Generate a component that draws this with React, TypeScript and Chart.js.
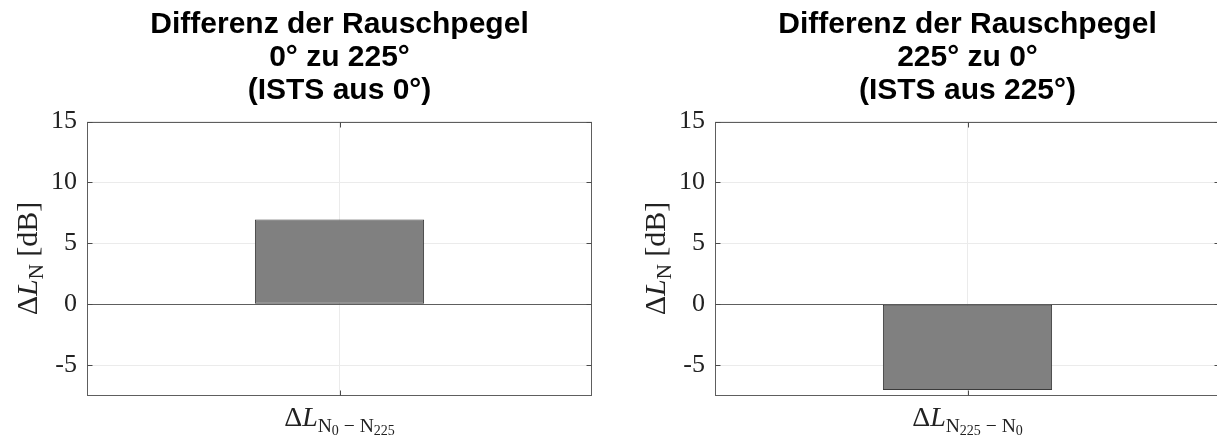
import React, { useEffect, useRef } from 'react';
import { Chart, registerables } from 'chart.js';

Chart.register(...registerables);

// ---- data ----
const leftTitle = ['Differenz der Rauschpegel', '0° zu 225°', '(ISTS aus 0°)'];
const rightTitle = ['Differenz der Rauschpegel', '225° zu 0°', '(ISTS aus 225°)'];
const leftSub = ['0', '225']; // ΔL_{N_0 − N_225}
const rightSub = ['225', '0']; // ΔL_{N_225 − N_0}
const leftCategories = [`ΔL_N${leftSub[0]} − N${leftSub[1]}`];
const rightCategories = [`ΔL_N${rightSub[0]} − N${rightSub[1]}`];
const leftValues = [6.95];
const rightValues = [-7.05];
const yTickValues = [-5, 0, 5, 10, 15];
const yTickLabels = ['-5', '0', '5', '10', '15'];
const yMin = -7.5;
const yMax = 15;
const yLabelParts = ['Δ', 'L', 'N', ' [dB]'];

// ---- rendering helpers ----
type Run = { t: string; size: number; italic?: boolean; dy: number };
const SERIF = '"Liberation Serif", "Times New Roman", serif';
const SANS = '"Liberation Sans", Arial, sans-serif';

function runFont(r: Run) {
  return `${r.italic ? 'italic ' : ''}${r.size}px ${SERIF}`;
}

function drawRuns(ctx: CanvasRenderingContext2D, runs: Run[], x: number, y: number) {
  let total = 0;
  const widths = runs.map((r) => {
    ctx.font = runFont(r);
    const w = ctx.measureText(r.t).width;
    total += w;
    return w;
  });
  let cx = x - total / 2;
  ctx.textAlign = 'left';
  ctx.textBaseline = 'alphabetic';
  runs.forEach((r, i) => {
    ctx.font = runFont(r);
    ctx.fillText(r.t, cx, y + r.dy);
    cx += widths[i];
  });
}

function xLabelRuns(sub: string[], B: number): Run[] {
  return [
    { t: 'Δ', size: B, dy: 0 },
    { t: 'L', size: B, italic: true, dy: 0 },
    { t: 'N', size: B * 0.7, dy: B * 0.2 },
    { t: sub[0], size: B * 0.5, dy: B * 0.33 },
    { t: ' − ', size: B * 0.7, dy: B * 0.2 },
    { t: 'N', size: B * 0.7, dy: B * 0.2 },
    { t: sub[1], size: B * 0.5, dy: B * 0.33 },
  ];
}

function yLabelRuns(B: number): Run[] {
  return [
    { t: yLabelParts[0], size: B, dy: 0 },
    { t: yLabelParts[1], size: B, italic: true, dy: 0 },
    { t: yLabelParts[2], size: B * 0.7, dy: B * 0.2 },
    { t: yLabelParts[3], size: B, dy: 0 },
  ];
}

function makeChart(canvas: HTMLCanvasElement, title: string[], categories: string[], values: number[], sub: string[]) {
  const decor = {
    id: 'matlabDecor',
    afterDraw(chart: any) {
      const { ctx, chartArea } = chart;
      const { left, right, top, bottom } = chartArea;
      const yScale = chart.scales.y;
      const xScale = chart.scales.x;
      ctx.save();
      // title, centred over the plot area
      ctx.fillStyle = '#000';
      ctx.font = `bold 30px ${SANS}`;
      ctx.textAlign = 'center';
      ctx.textBaseline = 'middle';
      title.forEach((line, i) => {
        ctx.fillText(line, (left + right) / 2, 24.5 + i * 33);
      });
      // box
      ctx.strokeStyle = '#5e5e5e';
      ctx.lineWidth = 1;
      const L = Math.round(left) + 0.5;
      const R = Math.round(right) - 0.5;
      const T = Math.round(top) + 0.5;
      const Bt = Math.round(bottom) - 0.5;
      ctx.strokeRect(L, T, R - L, Bt - T);
      // ticks
      ctx.strokeStyle = '#4a4a4a';
      ctx.beginPath();
      yTickValues.forEach((v) => {
        const py = Math.round(yScale.getPixelForValue(v)) + 0.5;
        ctx.moveTo(L, py);
        ctx.lineTo(L + 5, py);
        ctx.moveTo(R, py);
        ctx.lineTo(R - 5, py);
      });
      categories.forEach((_c, i) => {
        const px = Math.round(xScale.getPixelForValue(i)) + 0.5;
        ctx.moveTo(px, Bt);
        ctx.lineTo(px, Bt - 5);
        ctx.moveTo(px, T);
        ctx.lineTo(px, T + 5);
      });
      ctx.stroke();
      // x tick labels (rich text)
      ctx.fillStyle = '#222';
      categories.forEach((_c, i) => {
        const px = xScale.getPixelForValue(i);
        drawRuns(ctx, xLabelRuns(sub, 28), px, 426);
      });
      // y axis label (rotated)
      ctx.translate(37, (top + bottom) / 2);
      ctx.rotate(-Math.PI / 2);
      drawRuns(ctx, yLabelRuns(30), 0, 0);
      ctx.restore();
    },
  };

  return new Chart(canvas, {
    type: 'bar',
    data: {
      labels: categories,
      datasets: [
        {
          data: values,
          backgroundColor: '#808080',
          borderColor: '#3a3a3a',
          borderWidth: 1,
          borderSkipped: false,
          categoryPercentage: 1,
          barPercentage: 0.335,
        },
      ],
    },
    options: {
      responsive: false,
      animation: false,
      devicePixelRatio: 1,
      layout: { padding: { left: 0, right: 88, top: 121.5, bottom: 0 } },
      plugins: {
        legend: { display: false },
        tooltip: { enabled: false },
        title: { display: false },
      },
      scales: {
        x: {
          grid: { offset: false, color: '#ebebeb', drawTicks: false },
          border: { display: false },
          ticks: { display: false },
          afterFit: (s: any) => {
            s.height = 41.5;
          },
        },
        y: {
          min: yMin,
          max: yMax,
          afterBuildTicks: (s: any) => {
            s.ticks = yTickValues.map((v) => ({ value: v }));
          },
          afterFit: (s: any) => {
            s.width = 87;
          },
          grid: {
            drawTicks: false,
            color: (c: any) => (c.tick && c.tick.value === 0 ? '#5e5e5e' : '#ebebeb'),
          },
          border: { display: false },
          ticks: {
            padding: 10,
            color: '#222',
            font: { family: SERIF, size: 26 },
            callback: (v: any) => {
              const i = yTickValues.indexOf(Number(v));
              return i >= 0 ? yTickLabels[i] : '';
            },
          },
        },
      },
    } as any,
    plugins: [decor],
  });
}

export default function App() {
  const leftRef = useRef<HTMLCanvasElement>(null);
  const rightRef = useRef<HTMLCanvasElement>(null);

  useEffect(() => {
    const a = makeChart(leftRef.current!, leftTitle, leftCategories, leftValues, leftSub);
    const b = makeChart(rightRef.current!, rightTitle, rightCategories, rightValues, rightSub);
    return () => {
      a.destroy();
      b.destroy();
    };
  }, []);

  const cStyle = (x: number): React.CSSProperties => ({
    position: 'absolute',
    left: x,
    top: 0,
    width: 680,
    height: 437,
  });

  return (
    <div
      style={{
        position: 'absolute',
        left: 0,
        top: 0,
        width: 1217,
        height: 437,
        overflow: 'hidden',
        background: '#fff',
      }}
    >
      <canvas ref={leftRef} width={680} height={437} style={cStyle(0)} />
      <canvas ref={rightRef} width={680} height={437} style={cStyle(628)} />
    </div>
  );
}
